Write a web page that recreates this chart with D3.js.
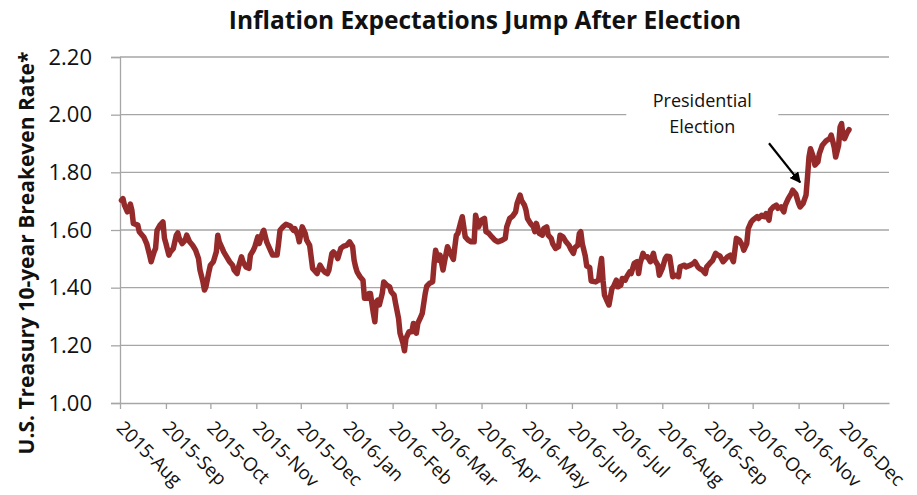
<!DOCTYPE html>
<html>
<head>
<meta charset="utf-8">
<script src="https://cdn.jsdelivr.net/npm/d3@7"></script>
<style>
  html, body { margin: 0; padding: 0; background: #fff; }
  svg { display: block; font-family: "Open Sans", "Noto Sans", sans-serif; }
</style>
</head>
<body>
<svg id="chart" width="917" height="495"></svg>
<script>
// 10-year breakeven inflation rate, daily observations
const dates = [
  "2015-08-02","2015-08-03","2015-08-04","2015-08-06","2015-08-07","2015-08-08","2015-08-09","2015-08-10","2015-08-13","2015-08-14",
  "2015-08-16","2015-08-17","2015-08-19","2015-08-21","2015-08-22","2015-08-24","2015-08-25","2015-08-26","2015-08-28","2015-08-30",
  "2015-08-31","2015-09-01","2015-09-03","2015-09-04","2015-09-06","2015-09-08","2015-09-09","2015-09-10","2015-09-12","2015-09-14",
  "2015-09-15","2015-09-17","2015-09-19","2015-09-21","2015-09-23","2015-09-24","2015-09-26","2015-09-27","2015-09-28","2015-09-30",
  "2015-10-01","2015-10-03","2015-10-05","2015-10-06","2015-10-07","2015-10-09","2015-10-10","2015-10-12","2015-10-14","2015-10-16",
  "2015-10-17","2015-10-19","2015-10-20","2015-10-22","2015-10-23","2015-10-25","2015-10-27","2015-10-28","2015-10-30","2015-10-31",
  "2015-11-02","2015-11-03","2015-11-05","2015-11-06","2015-11-08","2015-11-09","2015-11-11","2015-11-12","2015-11-15","2015-11-16",
  "2015-11-17","2015-11-19","2015-11-21","2015-11-24","2015-11-26","2015-11-27","2015-11-29","2015-11-30",
  "2015-12-02","2015-12-04","2015-12-05","2015-12-07","2015-12-08","2015-12-09","2015-12-11","2015-12-12","2015-12-14","2015-12-16",
  "2015-12-17","2015-12-19","2015-12-20","2015-12-22","2015-12-23","2015-12-25","2015-12-26","2015-12-28","2015-12-30",
  "2016-01-01","2016-01-03","2016-01-05","2016-01-06","2016-01-07","2016-01-08","2016-01-10","2016-01-11","2016-01-12","2016-01-13",
  "2016-01-15","2016-01-16","2016-01-17","2016-01-19","2016-01-20","2016-01-21","2016-01-22","2016-01-23","2016-01-25","2016-01-26",
  "2016-01-28","2016-01-30","2016-01-31",
  "2016-02-02","2016-02-03","2016-02-05","2016-02-06","2016-02-08","2016-02-09","2016-02-10","2016-02-12","2016-02-14","2016-02-15",
  "2016-02-17","2016-02-18","2016-02-20","2016-02-21","2016-02-23","2016-02-24","2016-02-26","2016-02-28","2016-02-29",
  "2016-03-01","2016-03-03","2016-03-04","2016-03-06","2016-03-07","2016-03-09","2016-03-11","2016-03-13","2016-03-14","2016-03-15",
  "2016-03-16","2016-03-18","2016-03-19","2016-03-21","2016-03-23","2016-03-25","2016-03-27","2016-03-28","2016-03-30","2016-03-31",
  "2016-04-01","2016-04-03","2016-04-04","2016-04-06","2016-04-08","2016-04-10","2016-04-12","2016-04-15","2016-04-17","2016-04-18",
  "2016-04-20","2016-04-22","2016-04-24","2016-04-25","2016-04-27","2016-04-28","2016-04-30",
  "2016-05-01","2016-05-02","2016-05-04","2016-05-06","2016-05-07","2016-05-08","2016-05-10","2016-05-12","2016-05-13","2016-05-15",
  "2016-05-16","2016-05-18","2016-05-19","2016-05-21","2016-05-23","2016-05-24","2016-05-26","2016-05-28","2016-05-30","2016-05-31",
  "2016-06-02","2016-06-03","2016-06-05","2016-06-06","2016-06-07","2016-06-08","2016-06-10","2016-06-11","2016-06-13","2016-06-14",
  "2016-06-17","2016-06-19","2016-06-20","2016-06-21","2016-06-22","2016-06-23","2016-06-25","2016-06-26","2016-06-28","2016-06-29",
  "2016-07-01","2016-07-02","2016-07-04","2016-07-05","2016-07-07","2016-07-08","2016-07-10","2016-07-11","2016-07-13","2016-07-15",
  "2016-07-16","2016-07-17","2016-07-19","2016-07-20","2016-07-22","2016-07-24","2016-07-26","2016-07-27","2016-07-29","2016-07-30",
  "2016-08-01","2016-08-03","2016-08-04","2016-08-06","2016-08-08","2016-08-10","2016-08-12","2016-08-13","2016-08-16","2016-08-17",
  "2016-08-20","2016-08-22","2016-08-23","2016-08-25","2016-08-26","2016-08-28","2016-08-30","2016-08-31",
  "2016-09-02","2016-09-04","2016-09-06","2016-09-07","2016-09-09","2016-09-11","2016-09-12","2016-09-14","2016-09-16","2016-09-18",
  "2016-09-19","2016-09-20","2016-09-22","2016-09-24","2016-09-25","2016-09-27","2016-09-28","2016-09-30",
  "2016-10-01","2016-10-04","2016-10-05","2016-10-07","2016-10-09","2016-10-10","2016-10-12","2016-10-13","2016-10-15","2016-10-17",
  "2016-10-18","2016-10-20","2016-10-22","2016-10-23","2016-10-25","2016-10-27","2016-10-28","2016-10-30",
  "2016-11-01","2016-11-02","2016-11-04","2016-11-06","2016-11-07","2016-11-08","2016-11-09","2016-11-11","2016-11-12","2016-11-14",
  "2016-11-15","2016-11-17","2016-11-19","2016-11-20","2016-11-22","2016-11-23","2016-11-25","2016-11-26","2016-11-28","2016-11-29",
  "2016-11-30","2016-12-01","2016-12-02","2016-12-04","2016-12-05"
];

const rates = [
  1.703,1.709,1.686,1.663,1.675,1.690,1.669,1.623,1.617,1.594,
  1.582,1.576,1.553,1.513,1.490,1.524,1.536,1.599,1.617,1.628,
  1.571,1.553,1.513,1.524,1.536,1.582,1.590,1.571,1.553,1.565,
  1.582,1.559,1.547,1.530,1.501,1.461,1.420,1.392,1.403,1.455,
  1.478,1.490,1.524,1.582,1.559,1.536,1.524,1.507,1.490,1.478,
  1.461,1.449,1.472,1.507,1.490,1.472,1.467,1.513,1.530,1.542,
  1.576,1.553,1.588,1.599,1.559,1.547,1.524,1.513,1.513,1.553,
  1.599,1.611,1.620,1.614,1.599,1.605,1.582,1.559,
  1.611,1.588,1.565,1.547,1.507,1.467,1.455,1.449,1.478,1.461,
  1.455,1.449,1.461,1.519,1.524,1.513,1.501,1.536,1.544,
  1.547,1.559,1.542,1.495,1.472,1.455,1.438,1.432,1.426,1.363,
  1.363,1.380,1.380,1.311,1.282,1.351,1.357,1.340,1.380,1.420,
  1.409,1.403,1.386,
  1.374,1.345,1.293,1.242,1.207,1.181,1.224,1.247,1.247,1.276,
  1.242,1.276,1.299,1.311,1.380,1.405,1.415,1.420,1.484,
  1.530,1.495,1.513,1.461,1.490,1.542,1.519,1.498,1.542,1.582,
  1.588,1.628,1.646,1.576,1.565,1.559,1.559,1.651,1.611,1.623,
  1.634,1.640,1.594,1.588,1.576,1.565,1.559,1.565,1.571,1.611,
  1.640,1.648,1.663,1.692,1.721,1.703,1.686,
  1.669,1.640,1.623,1.611,1.594,1.623,1.588,1.582,1.605,1.611,
  1.582,1.571,1.553,1.536,1.542,1.582,1.576,1.559,1.547,1.536,
  1.519,1.539,1.547,1.588,1.594,1.553,1.510,1.475,1.470,1.423,
  1.420,1.426,1.467,1.501,1.426,1.374,1.351,1.340,1.397,1.403,
  1.426,1.403,1.409,1.432,1.426,1.438,1.455,1.449,1.484,1.490,
  1.449,1.484,1.519,1.507,1.507,1.490,1.519,1.495,1.478,1.443,
  1.467,1.501,1.509,1.507,1.438,1.443,1.438,1.472,1.478,1.472,
  1.478,1.484,1.490,1.472,1.467,1.461,1.449,1.472,
  1.484,1.495,1.519,1.515,1.509,1.490,1.495,1.507,1.513,1.490,
  1.530,1.571,1.565,1.547,1.530,1.553,1.605,1.628,
  1.634,1.646,1.640,1.651,1.646,1.657,1.634,1.669,1.680,1.686,
  1.675,1.680,1.663,1.686,1.709,1.726,1.738,1.726,
  1.692,1.680,1.692,1.721,1.784,1.853,1.882,1.853,1.825,1.836,
  1.865,1.894,1.906,1.911,1.917,1.929,1.888,1.853,1.894,1.957,
  1.969,1.923,1.917,1.940,1.948
];

const yTickValues = [1.00, 1.20, 1.40, 1.60, 1.80, 2.00, 2.20];
const xStart = "2015-08-01";
const xEnd = "2017-01-01";
const lastTickMonth = "2016-12-01";

const titleText = "Inflation Expectations Jump After Election";
const yAxisTitle = "U.S. Treasury 10-year Breakeven Rate*";
const noteLines = ["Presidential", "Election"];

const parse = d3.timeParse("%Y-%m-%d");
const series = dates.map((d, i) => ({ date: parse(d), value: rates[i] }));

const svg = d3.select("#chart");
const plot = { left: 120, right: 889, top: 57, bottom: 403 };

const x = d3.scaleTime()
  .domain([parse(xStart), parse(xEnd)])
  .range([plot.left, plot.right]);

const y = d3.scaleLinear()
  .domain([1.0, 2.2])
  .range([plot.bottom, plot.top]);

const gridColor = "#a6a6a6";

// horizontal gridlines
svg.append("g")
  .selectAll("line")
  .data(yTickValues.filter(v => v > 1.0))
  .join("line")
  .attr("x1", plot.left)
  .attr("x2", plot.right)
  .attr("y1", d => y(d))
  .attr("y2", d => y(d))
  .attr("stroke", gridColor)
  .attr("stroke-width", 1.3);

// y axis
const yAxis = svg.append("g")
  .attr("transform", `translate(${plot.left},0)`)
  .call(d3.axisLeft(y).tickValues(yTickValues).tickFormat(d3.format(".2f")).tickSize(9).tickPadding(19));
yAxis.select(".domain").attr("stroke", gridColor).attr("stroke-width", 1.3);
yAxis.selectAll(".tick line").attr("stroke", gridColor).attr("stroke-width", 1.3);
yAxis.selectAll(".tick text")
  .attr("font-size", 22)
  .attr("fill", "#111")
  .attr("font-family", "Open Sans");

// x axis, one tick per month
const monthTicks = d3.timeMonth.range(parse(xStart), d3.timeDay.offset(parse(lastTickMonth), 1));
const xAxis = svg.append("g")
  .attr("transform", `translate(0,${plot.bottom})`)
  .call(d3.axisBottom(x).tickValues(monthTicks).tickFormat(d3.timeFormat("%Y-%b")).tickSize(6).tickSizeOuter(0));
xAxis.select(".domain").attr("stroke", gridColor).attr("stroke-width", 1.3);
xAxis.selectAll(".tick line").attr("stroke", gridColor).attr("stroke-width", 1.3);
xAxis.selectAll(".tick text")
  .attr("font-size", 18.8)
  .attr("fill", "#111")
  .attr("font-family", "Open Sans")
  .attr("text-anchor", "start")
  .attr("dy", null)
  .attr("y", 0)
  .attr("transform", "translate(-5,26) rotate(45)");

// annotation backdrop breaks the gridline behind the note
const noteDate = parse("2016-08-28");
svg.append("rect")
  .attr("x", x(noteDate) - 76)
  .attr("y", y(2.08))
  .attr("width", 152)
  .attr("height", y(1.90) - y(2.08))
  .attr("fill", "#fff");

svg.append("g")
  .selectAll("text")
  .data(noteLines)
  .join("text")
  .attr("x", x(noteDate))
  .attr("y", (d, i) => y(2.026) + i * 26)
  .attr("text-anchor", "middle")
  .attr("font-size", 18)
  .attr("fill", "#111")
  .text(d => d);

// the series
const line = d3.line()
  .x(d => x(d.date))
  .y(d => y(d.value))
  .curve(d3.curveLinear);

svg.append("path")
  .datum(series)
  .attr("d", line)
  .attr("fill", "none")
  .attr("stroke", "#952a2a")
  .attr("stroke-width", 5.5)
  .attr("stroke-linejoin", "round")
  .attr("stroke-linecap", "round");

// arrow pointing at election day
const defs = svg.append("defs");
defs.append("marker")
  .attr("id", "arrowhead")
  .attr("viewBox", "0 0 10 10")
  .attr("refX", 9)
  .attr("refY", 5)
  .attr("markerWidth", 5)
  .attr("markerHeight", 5)
  .attr("markerUnits", "strokeWidth")
  .attr("orient", "auto")
  .append("path")
  .attr("d", "M0,0 L10,5 L0,10 z")
  .attr("fill", "#000");

svg.append("line")
  .attr("x1", x(parse("2016-10-12")))
  .attr("y1", y(1.901))
  .attr("x2", x(parse("2016-11-02")))
  .attr("y2", y(1.765))
  .attr("stroke", "#000")
  .attr("stroke-width", 2.2)
  .attr("marker-end", "url(#arrowhead)");

// titles
svg.append("text")
  .attr("x", 485)
  .attr("y", 29)
  .attr("text-anchor", "middle")
  .attr("font-size", 24.5)
  .attr("font-weight", "bold")
  .attr("fill", "#111")
  .text(titleText);

svg.append("text")
  .attr("transform", `translate(34,253) rotate(-90)`)
  .attr("text-anchor", "middle")
  .attr("font-size", 21)
  .attr("font-weight", "bold")
  .attr("fill", "#111")
  .text(yAxisTitle);
</script>
</body>
</html>
